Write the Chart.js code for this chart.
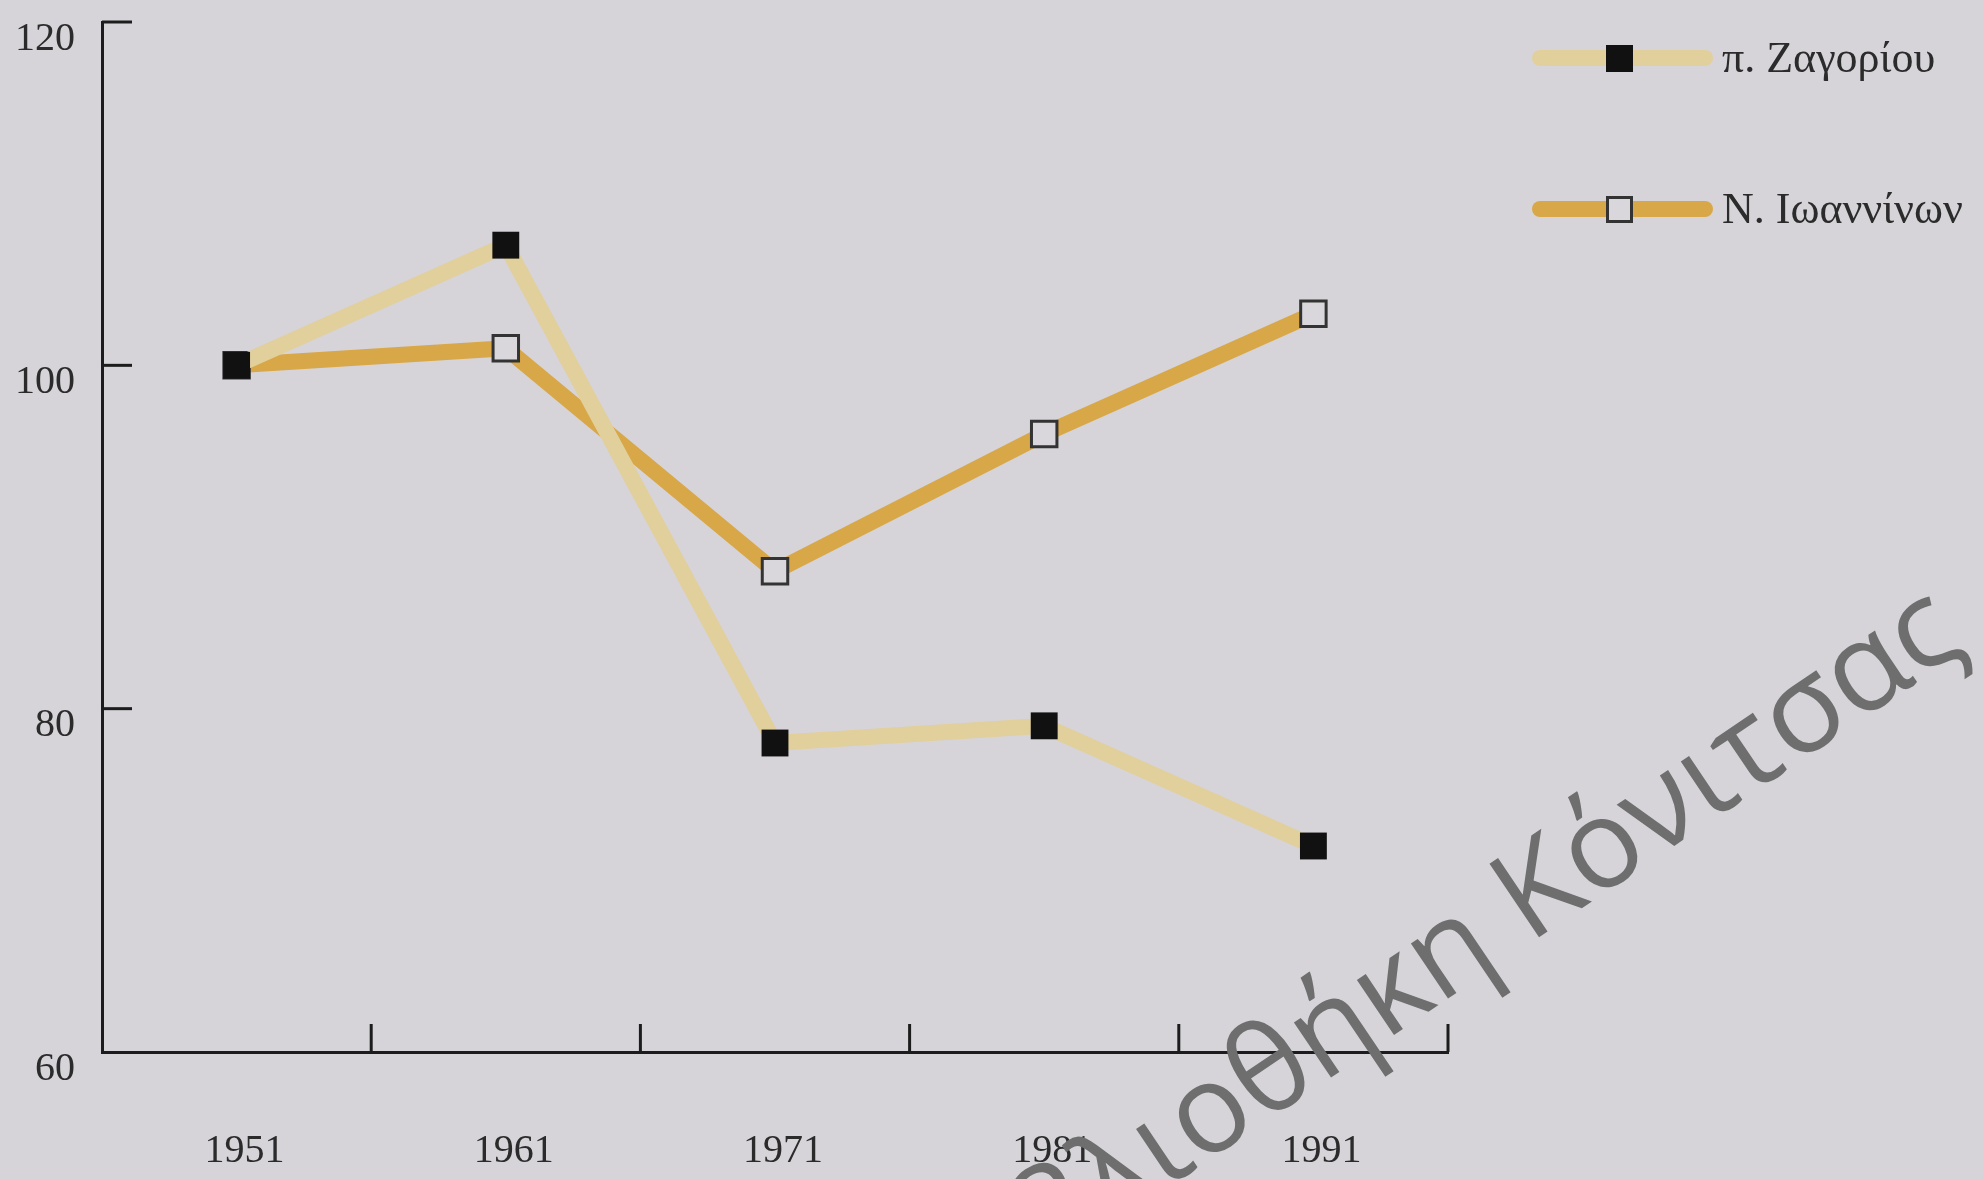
<!DOCTYPE html>
<html>
<head>
<meta charset="utf-8">
<script src="https://cdn.jsdelivr.net/npm/chart.js@4"></script>
<style>
  body { margin: 0; background: #d6d4d9; }
  canvas { display: block; }
</style>
</head>
<body>
<canvas id="popChart" width="1983" height="1179"></canvas>
<script>
// data (index, 1951 = 100)
const years = ["1951", "1961", "1971", "1981", "1991"];
const zagoriValues = [100, 107, 78, 79, 72];
const ioanninaValues = [100, 101, 88, 96, 103];
const seriesLabels = ["π. Ζαγορίου", "Ν. Ιωαννίνων"];
const yMin = 60, yMax = 120, yStep = 20;

const serif = "'Liberation Serif', 'DejaVu Serif', serif";
const axisColor = "#1c1c1c";

// small ticks pointing into the plot, like the printed chart
const inwardTicks = {
  id: "inwardTicks",
  afterDraw(chart) {
    const ctx = chart.ctx;
    const x = chart.scales.x, y = chart.scales.y;
    ctx.save();
    ctx.strokeStyle = axisColor;
    ctx.lineWidth = 3;
    y.ticks.forEach(t => {
      if (t.value === yMin) return;
      const py = y.getPixelForValue(t.value);
      ctx.beginPath();
      ctx.moveTo(x.left, py);
      ctx.lineTo(x.left + 30, py);
      ctx.stroke();
    });
    const band = x.getPixelForValue(1) - x.getPixelForValue(0);
    years.forEach((yr, i) => {
      const px = x.getPixelForValue(i) + band / 2;
      ctx.beginPath();
      ctx.moveTo(px, y.bottom);
      ctx.lineTo(px, y.bottom - 28);
      ctx.stroke();
    });
    ctx.restore();
  }
};

// legend: thick line with the marker in the middle
const lineLegend = {
  id: "lineLegend",
  afterDraw(chart) {
    const ctx = chart.ctx;
    const rowsY = [58, 209];
    ctx.save();
    chart.data.datasets.forEach((ds, i) => {
      const yy = rowsY[i];
      ctx.strokeStyle = ds.borderColor;
      ctx.lineWidth = 16;
      ctx.lineCap = "round";
      ctx.beginPath();
      ctx.moveTo(1540, yy);
      ctx.lineTo(1705, yy);
      ctx.stroke();
      ctx.fillStyle = ds.pointBackgroundColor;
      ctx.fillRect(1606, yy - 13, 27, 27);
      if (ds.pointBorderWidth) {
        ctx.lineCap = "butt";
        ctx.lineWidth = ds.pointBorderWidth;
        ctx.strokeStyle = ds.pointBorderColor;
        ctx.strokeRect(1607.5, yy - 11.5, 24, 24);
      }
      ctx.fillStyle = "#2b2b2b";
      ctx.font = "44px " + serif;
      ctx.textBaseline = "middle";
      ctx.fillText(ds.label, 1722, yy + 2);
    });
    ctx.restore();
  }
};

// library stamp across the lower right
const watermark = {
  id: "watermark",
  afterDraw(chart) {
    const ctx = chart.ctx;
    ctx.save();
    ctx.translate(1529, 944);
    ctx.rotate(-34 * Math.PI / 180);
    ctx.fillStyle = "#6e6e6e";
    ctx.font = "124px 'Open Sans', 'Noto Sans', sans-serif";
    ctx.textAlign = "right";
    ctx.fillText("Βιβλιοθήκη ", 0, 0);
    ctx.textAlign = "left";
    ctx.fillText("Κόνιτσας", 0, 0);
    ctx.restore();
  }
};

new Chart(document.getElementById("popChart"), {
  type: "line",
  data: {
    labels: years,
    datasets: [
      {
        label: seriesLabels[0],
        data: zagoriValues,
        borderColor: "#e1cf9c",
        borderWidth: 16,
        pointStyle: "rect",
        pointRadius: 19,
        pointBackgroundColor: "#111111",
        pointBorderColor: "#111111",
        pointBorderWidth: 0
      },
      {
        label: seriesLabels[1],
        data: ioanninaValues,
        borderColor: "#d8a747",
        borderWidth: 16,
        pointStyle: "rect",
        pointRadius: 18,
        pointBackgroundColor: "#d9d7db",
        pointBorderColor: "#333333",
        pointBorderWidth: 3
      }
    ]
  },
  options: {
    responsive: false,
    animation: false,
    layout: { padding: { top: 22, right: 535, left: 0, bottom: 0 } },
    plugins: {
      legend: { display: false },
      tooltip: { enabled: false }
    },
    elements: { line: { tension: 0, borderJoinStyle: "miter" } },
    scales: {
      x: {
        offset: true,
        grid: { drawOnChartArea: false, drawTicks: false },
        border: { display: true, color: axisColor, width: 3 },
        ticks: {
          padding: 75,
          labelOffset: 8,
          color: "#2b2b2b",
          font: { family: serif, size: 40 }
        },
        afterFit: s => { s.height = 127; s.paddingLeft = 0; s.paddingRight = 0; }
      },
      y: {
        min: yMin,
        max: yMax,
        grid: { drawOnChartArea: false, drawTicks: false },
        border: { display: true, color: axisColor, width: 3 },
        ticks: {
          stepSize: yStep,
          padding: 27,
          labelOffset: 17,
          color: "#2b2b2b",
          font: { family: serif, size: 40 }
        },
        afterFit: s => { s.width = 102; s.paddingTop = 0; s.paddingBottom = 0; }
      }
    }
  },
  plugins: [inwardTicks, lineLegend, watermark]
});
</script>
</body>
</html>
